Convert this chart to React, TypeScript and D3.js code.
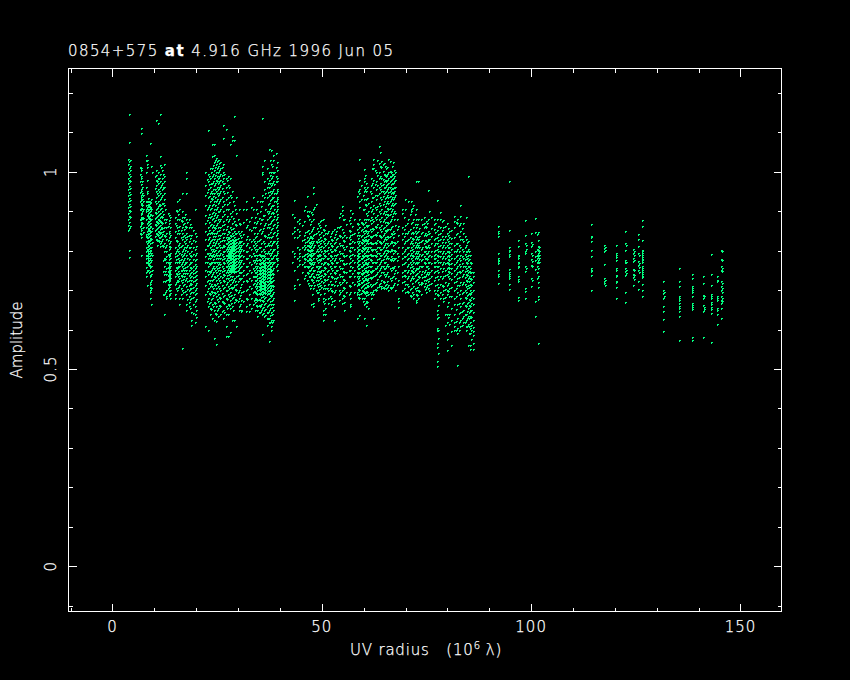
import { useEffect, useRef } from 'react';
import * as d3 from 'd3';

// each column is one baseline track: [uv radius in 10^6 lambda, amplitudes in milli-units]
type Column = [number, number[]];

const bandA: Column[] = [
    [3.7, [1032, 1019, 1000, 985, 970, 955, 940, 925, 910, 895, 880, 866, 853]],
    [3.9, [1147, 1076, 1026, 1008, 993, 979, 963, 948, 933, 917, 902, 887, 872, 858, 802, 783]],
    [6.6, [1012, 995, 975, 948, 925, 905, 880, 862, 845]],
    [6.9, [1110, 1097, 1003, 985, 968, 955, 942, 930, 918, 905, 892, 880, 868, 852, 835, 790]],
    [7.1, [975, 960, 945, 930, 915, 900, 885, 870]],
    [7.9, [1041, 1030, 925, 905, 880, 860, 842, 825, 810, 790, 770, 745]],
    [8.3, [1029, 1020, 1012, 980, 950, 945, 925, 910, 890, 870, 850, 835, 820, 805, 790, 770, 750, 712]],
    [8.6, [925, 915, 905, 895, 885, 875, 865, 855, 845, 835, 825, 815, 805, 795, 785, 775, 765]],
    [8.9, [1072, 920, 910, 900, 890, 880, 870, 860, 850, 840, 830, 820, 810, 800, 790, 780, 770, 760, 748, 735, 720, 708, 695, 680]],
    [9.2, [1015, 930, 905, 880, 850, 830, 810, 795, 775, 760, 740, 725, 705, 665]],
    [10.3, [1130, 1005, 992, 980, 965, 950, 935, 920, 905, 895, 885, 875, 865, 855, 845, 830]],
    [10.8, [1122, 1000, 985, 970, 955, 940, 925, 912, 900, 890, 880, 870, 860, 850, 840, 826]],
    [11.3, [1147, 1040, 1018, 995, 975, 960, 945, 930, 915, 905, 895, 885, 875, 865, 855, 845, 835, 820, 812]],
    [11.8, [1005, 985, 970, 955, 940, 920, 900, 885, 870, 858, 843, 830, 815]],
    [12.3, [1020, 990, 975, 960, 945, 930, 915, 880, 860, 840, 820, 800, 780, 760, 740, 690, 640]],
    [12.9, [880, 860, 845, 830, 815, 800, 785, 770, 755, 740, 725, 700, 685, 680]],
    [13.4, [890, 870, 850, 835, 820, 805, 790, 778, 766, 755, 745, 735, 725, 712, 700, 688]],
    [13.8, [885, 860, 840, 825, 810, 795, 780, 770, 760, 750, 740, 730, 715, 700, 692, 680]],
    [15.0, [885, 870, 850, 835, 810, 795, 785, 770, 750, 735, 715, 690, 680]],
    [15.5, [925, 900, 880, 860, 845, 825, 805, 790, 770, 755, 740, 725, 700]],
    [16.0, [930, 905, 880, 862, 845, 820, 810, 795, 775, 770, 760, 742, 730, 712, 680, 665]],
    [16.6, [945, 900, 885, 875, 860, 845, 830, 815, 800, 785, 770, 760, 750, 735, 720, 700, 680, 554]],
    [17.0, [885, 870, 855, 840, 825, 810, 795, 780, 765, 750, 735, 715]],
    [17.6, [1000, 985, 945, 880, 860, 845, 830, 810, 790, 770, 750, 730, 710, 690, 665, 650]],
    [18.2, [880, 860, 840, 825, 810, 795, 778, 765, 750, 738, 725, 712, 700, 685, 670, 660]],
    [18.8, [860, 840, 820, 800, 785, 770, 755, 745, 735, 725, 715, 705, 695, 680, 645, 625, 612]],
    [19.6, [905, 845, 825, 805, 790, 775, 765, 755, 745, 735, 725, 712, 700, 690, 672, 660, 640, 620]],
    [22.2, [1000, 965, 940, 915, 890, 870, 850, 830, 805, 785, 770, 750, 735, 712, 690, 608]],
    [22.8, [1105, 995, 975, 955, 935, 910, 885, 860, 845, 830, 815, 795, 780, 760, 740, 725, 705, 680, 660, 598]],
    [23.3, [1010, 985, 960, 945, 925, 905, 885, 865, 845, 825, 810, 795, 780, 765, 745, 725, 710, 690, 670, 655, 640]],
    [23.8, [1069, 1040, 1010, 990, 970, 945, 930, 915, 895, 880, 860, 845, 830, 815, 800, 785, 770, 755, 740, 725, 710, 695, 680, 665, 628]],
    [24.3, [1071, 1041, 1025, 1005, 985, 965, 945, 925, 905, 890, 875, 860, 845, 830, 815, 800, 785, 770, 755, 735, 715, 695, 670, 650, 625, 579]],
    [24.8, [1035, 1020, 1000, 980, 950, 925, 905, 885, 865, 845, 825, 810, 795, 780, 760, 745, 725, 705, 685, 660, 640, 622, 562]],
    [25.3, [1030, 1015, 1000, 985, 970, 955, 940, 920, 900, 880, 860, 840, 820, 800, 780, 765, 750, 730, 710, 690, 672, 655, 635]],
    [25.8, [1025, 1010, 995, 980, 965, 950, 930, 905, 880, 860, 840, 825, 810, 795, 780, 765, 750, 735, 720, 700, 680, 660, 640]],
    [26.4, [1119, 1086, 1020, 1000, 985, 970, 950, 925, 900, 875, 855, 835, 815, 800, 785, 770, 755, 740, 725, 705, 685, 670, 650, 630]],
    [27.0, [1109, 985, 960, 930, 905, 880, 855, 835, 820, 805, 790, 775, 760, 745, 730, 715, 700, 680, 660, 640, 608, 584]],
    [27.6, [990, 965, 935, 905, 875, 850, 835, 825, 815, 805, 795, 785, 775, 765, 755, 745, 730, 710, 690, 665, 640, 583]],
    [28.1, [1071, 985, 940, 895, 860, 840, 828, 820, 812, 804, 796, 788, 780, 772, 764, 756, 748, 735, 715, 695, 675, 655, 594]],
    [28.6, [1090, 1080, 950, 900, 870, 845, 830, 822, 814, 806, 798, 790, 782, 774, 766, 758, 750, 735, 720, 705, 680, 660, 625]],
    [29.1, [1140, 1080, 915, 875, 850, 835, 825, 817, 809, 801, 793, 785, 777, 769, 761, 753, 745, 730, 712, 690, 670, 625]],
    [29.6, [1041, 935, 895, 865, 845, 830, 822, 814, 806, 798, 790, 782, 774, 766, 758, 748, 735, 715, 700, 675, 608]],
    [30.2, [905, 870, 845, 825, 815, 805, 795, 785, 775, 765, 755, 745, 730, 700, 680, 660, 650]],
    [30.8, [850, 835, 825, 815, 805, 790, 775, 760, 745, 730, 715, 695, 675, 650, 648]],
    [31.9, [925, 905, 880, 860, 830, 815, 800, 780, 760, 740, 725, 700, 680, 660, 648]],
    [32.5, [875, 855, 830, 810, 790, 770, 750, 730, 710, 690, 665, 648]],
    [33.5, [935, 905, 860, 830, 815, 795, 775, 755, 735, 715, 695, 665]],
    [34.0, [885, 860, 835, 820, 805, 790, 775, 760, 745, 735, 725, 710, 695, 680, 670, 650]],
    [34.6, [925, 895, 875, 845, 825, 805, 790, 775, 760, 750, 740, 730, 720, 710, 700, 690, 675, 660, 650, 635]],
    [35.2, [925, 900, 870, 855, 830, 810, 790, 775, 765, 755, 748, 740, 732, 724, 716, 708, 700, 690, 675, 660, 645]],
    [35.7, [1135, 1013, 1000, 995, 940, 925, 880, 850, 790, 780, 770, 762, 754, 746, 738, 730, 722, 714, 706, 698, 690, 675, 655, 640, 589]],
    [36.2, [1029, 975, 955, 935, 890, 865, 840, 820, 800, 785, 775, 767, 759, 751, 743, 735, 727, 719, 711, 703, 695, 680, 665, 650, 635]],
    [36.8, [1010, 985, 960, 935, 900, 880, 860, 835, 815, 795, 780, 770, 762, 754, 746, 738, 730, 722, 714, 706, 698, 690, 675, 660, 645, 630, 612]],
    [37.3, [1058, 1000, 980, 960, 940, 920, 900, 885, 860, 835, 815, 795, 775, 765, 757, 749, 741, 733, 725, 717, 709, 701, 693, 680, 665, 650, 630, 620, 572]],
    [37.8, [1056, 1020, 1000, 985, 965, 945, 930, 912, 895, 875, 855, 835, 815, 795, 780, 770, 760, 750, 740, 730, 720, 710, 700, 685, 665, 645, 625, 610, 600]],
    [38.3, [1041, 1029, 1000, 975, 955, 935, 915, 895, 880, 865, 845, 825, 805, 785, 770, 755, 740, 725, 710, 695, 680, 665, 650, 625]],
    [39.0, [1047, 1012, 990, 975, 945, 925, 900, 880, 860, 840, 820, 790, 780, 760]],
    [39.4, [1025, 985, 955, 935, 920, 905, 885, 865, 845, 825, 810, 795, 775, 752]],
];

// tracks between the ones above, where the cloud is thicker
const bandAFill: Column[] = [
    [4.1, [1030, 1015, 1004, 989, 975, 958, 944, 929, 914, 899, 884, 862]],
    [6.7, [1010, 990, 968, 952, 936, 920, 908, 895, 884, 872, 858, 842]],
    [7.3, [940, 925, 905, 882, 860, 848]],
    [8.1, [1000, 960, 915, 900, 860, 838, 800, 782, 758, 736]],
    [8.45, [932, 918, 902, 888, 872, 858, 842, 828, 812, 798, 782, 768, 752]],
    [8.75, [926, 913, 897, 883, 867, 853, 837, 823, 807, 793, 777, 763, 745]],
    [9.05, [922, 908, 892, 878, 862, 848, 832, 818, 802, 788, 772, 758, 738, 716, 700]],
    [9.5, [1000, 890, 858, 822, 788, 752]],
    [10.1, [990, 958, 925, 897, 882, 868, 852, 838]],
    [10.55, [975, 945, 908, 887, 872, 858, 843, 828, 815]],
    [11.05, [985, 950, 918, 893, 878, 862, 848, 835, 823]],
    [11.55, [1012, 965, 935, 908, 888, 872, 860, 847, 838, 825]],
    [12.05, [995, 960, 920, 892, 850, 812, 775, 748, 722, 690]],
    [12.6, [905, 872, 838, 808, 778, 748, 722, 695]],
    [13.15, [895, 862, 828, 792, 772, 758, 748, 738, 728, 716, 704]],
    [13.6, [878, 845, 812, 785, 772, 762, 752, 742, 732, 722, 708, 690]],
    [15.25, [902, 865, 828, 798, 778, 758, 742, 720, 705]],
    [15.75, [892, 852, 815, 798, 782, 762, 748, 735, 722, 708]],
    [16.3, [878, 852, 835, 812, 792, 778, 765, 752, 738, 725, 705, 690]],
    [16.85, [868, 838, 805, 790, 775, 755, 742, 728, 712, 695]],
    [17.3, [892, 862, 835, 818, 802, 772, 758, 742, 725, 698]],
    [17.9, [872, 838, 815, 798, 782, 762, 742, 722, 702, 678]],
    [18.5, [868, 832, 808, 788, 772, 758, 742, 732, 718, 705, 692, 678, 655]],
    [19.2, [852, 828, 808, 792, 778, 762, 752, 742, 732, 722, 708, 695, 682, 665, 642]],
    [19.9, [838, 812, 795, 778, 762, 748, 738, 728, 718, 705, 692, 678, 650, 632]],
    [22.5, [982, 948, 905, 878, 842, 815, 795, 772, 748, 722, 698, 672]],
    [23.05, [990, 968, 938, 915, 892, 872, 852, 835, 818, 788, 768, 748, 718, 692, 668]],
    [23.55, [1000, 972, 952, 932, 908, 888, 868, 848, 828, 805, 788, 772, 752, 735, 715, 698, 678, 652]],
    [24.05, [1018, 995, 975, 955, 938, 918, 898, 882, 865, 852, 838, 822, 805, 792, 778, 762, 745, 728, 705, 688, 660]],
    [24.55, [1030, 1012, 992, 972, 955, 935, 915, 895, 878, 858, 838, 818, 802, 788, 772, 752, 732, 712, 692, 668, 642]],
    [25.05, [1028, 1008, 990, 975, 962, 945, 930, 910, 890, 870, 850, 830, 810, 790, 772, 755, 738, 718, 698, 678, 650]],
    [25.55, [1022, 1005, 990, 975, 960, 945, 925, 900, 875, 852, 832, 815, 802, 788, 772, 758, 742, 725, 705, 682, 662]],
    [26.1, [1012, 992, 975, 958, 935, 912, 888, 865, 845, 828, 808, 792, 778, 762, 748, 732, 712, 692, 672, 648]],
    [26.7, [995, 972, 945, 918, 892, 868, 845, 828, 812, 798, 782, 768, 752, 738, 722, 708, 688, 668, 645]],
    [27.3, [978, 948, 918, 888, 862, 842, 830, 820, 810, 800, 790, 780, 770, 760, 750, 738, 720, 700, 678, 655]],
    [27.85, [960, 922, 880, 848, 832, 824, 816, 808, 800, 792, 784, 776, 768, 760, 752, 740, 725, 705, 685, 662]],
    [28.35, [935, 888, 855, 838, 826, 818, 810, 802, 794, 786, 778, 770, 762, 754, 746, 728, 708, 688, 668]],
    [28.85, [925, 882, 858, 840, 827, 819, 811, 803, 795, 787, 779, 771, 763, 755, 747, 725, 708, 682, 650]],
    [29.35, [905, 868, 845, 830, 820, 812, 804, 796, 788, 780, 772, 764, 756, 748, 722, 702, 678]],
    [29.9, [880, 850, 832, 820, 810, 800, 790, 780, 770, 760, 750, 738, 722, 695, 672]],
    [30.5, [868, 840, 822, 810, 798, 785, 772, 758, 745, 728, 708, 688, 665]],
    [31.2, [905, 872, 842, 820, 802, 785, 768, 752, 738, 722, 698, 672]],
    [32.2, [865, 838, 820, 800, 782, 762, 742, 722, 702, 678]],
    [33.0, [910, 885, 852, 825, 805, 785, 765, 745, 725, 705, 680, 655]],
    [33.8, [872, 845, 825, 808, 790, 772, 752, 735, 718, 698, 675]],
    [34.3, [905, 870, 838, 815, 798, 782, 768, 755, 745, 735, 725, 715, 705, 692, 678, 662]],
    [34.9, [882, 852, 828, 808, 792, 778, 768, 758, 750, 742, 734, 726, 718, 710, 702, 692, 678, 662, 645]],
    [35.45, [912, 880, 845, 820, 800, 785, 772, 762, 752, 744, 736, 728, 720, 712, 704, 694, 682, 665, 650]],
    [35.95, [890, 858, 825, 805, 788, 776, 768, 760, 752, 744, 736, 728, 720, 712, 704, 696, 686, 672, 658, 642]],
    [36.5, [945, 905, 870, 838, 812, 795, 782, 772, 764, 756, 748, 740, 732, 724, 716, 708, 700, 692, 682, 668, 652, 638]],
    [37.05, [972, 948, 918, 895, 868, 842, 818, 798, 782, 772, 764, 756, 748, 740, 732, 724, 716, 708, 700, 692, 678, 662, 645, 628]],
    [37.55, [1030, 992, 970, 950, 928, 908, 888, 870, 848, 825, 805, 788, 772, 762, 754, 746, 738, 730, 722, 714, 706, 698, 688, 672, 655, 638, 618]],
    [38.05, [1015, 990, 972, 952, 935, 915, 898, 878, 858, 838, 818, 800, 782, 765, 752, 742, 732, 722, 712, 702, 690, 675, 658, 640, 620]],
    [38.6, [1000, 968, 945, 925, 905, 888, 868, 848, 825, 805, 790, 772]],
    [39.2, [1005, 975, 950, 930, 912, 892, 872, 852, 832, 815, 798, 782, 765]],
];

const bandB: Column[] = [
    [43.3, [929, 886, 860, 850, 834, 795, 785, 750, 713, 705, 675]],
    [44.5, [880, 870, 850, 840, 805, 795, 785, 775, 765, 716]],
    [45.7, [903, 875, 840, 830, 815, 805, 790, 780, 770, 760, 730]],
    [46.4, [937, 900, 890, 850, 835, 825, 815, 805, 795, 785, 775, 760, 745, 725]],
    [46.9, [900, 880, 845, 832, 822, 812, 802, 792, 782, 772, 762, 750, 735, 712]],
    [47.4, [897, 875, 850, 835, 825, 815, 805, 795, 785, 775, 765, 755, 740, 728, 712, 665]],
    [47.9, [960, 945, 905, 880, 860, 840, 825, 810, 795, 780, 765, 750, 735, 720, 705, 668, 660]],
    [48.5, [919, 845, 825, 800, 780, 760, 740, 725, 700]],
    [49.0, [870, 850, 830, 815, 800, 785, 770, 755, 740, 725, 710, 695, 680, 675]],
    [49.6, [875, 860, 835, 820, 805, 790, 775, 760, 745, 730, 712, 690]],
    [50.2, [880, 855, 840, 825, 810, 795, 780, 765, 750, 735, 720, 705, 680, 672, 650, 640, 625]],
    [50.8, [865, 845, 830, 815, 800, 785, 770, 755, 740, 725, 705, 678, 655, 640]],
    [51.6, [850, 825, 810, 795, 780, 765, 750, 735, 715, 700, 680, 668]],
    [52.2, [845, 830, 815, 800, 785, 770, 755, 735, 715, 700, 680, 665]],
    [52.8, [855, 835, 820, 805, 790, 775, 760, 745, 730, 712, 695, 675, 660, 625]],
    [53.3, [850, 830, 810, 790, 770, 750, 730]],
    [54.0, [885, 860, 840, 820, 800, 780, 760, 740, 720, 700, 690, 675]],
    [54.8, [913, 903, 890, 855, 835, 815, 795, 775, 755, 735, 720, 700, 680, 668]],
    [55.4, [880, 840, 825, 805, 785, 765, 745, 725, 705, 685, 670, 650]],
    [56.8, [903, 885, 870, 850, 840, 830, 820, 810, 800, 790, 780, 770, 760, 750, 735, 710, 695, 680, 665, 660]],
    [58.3, [937, 870, 855, 840, 825, 810, 800, 790, 780, 770, 760, 745, 735, 722, 712, 695, 690, 629]],
    [59.0, [1033, 978, 955, 945, 925, 910, 880, 860, 840, 825, 815, 805, 795, 785, 775, 765, 755, 745, 735, 725, 715, 700, 690, 680, 637]],
    [59.5, [870, 855, 840, 830, 820, 810, 800, 790, 780, 770, 760, 750, 740, 730, 720, 710, 700, 680]],
    [60.0, [1007, 985, 975, 960, 950, 930, 905, 880, 860, 845, 835, 825, 815, 805, 795, 785, 775, 765, 755, 745, 735, 725, 715, 705, 695, 680, 665, 630]],
    [60.5, [970, 950, 930, 915, 895, 880, 865, 850, 838, 828, 818, 808, 798, 788, 778, 768, 758, 748, 738, 728, 718, 708, 698, 688, 672, 660, 612]],
    [61.1, [920, 900, 880, 865, 850, 840, 830, 820, 810, 800, 790, 780, 770, 760, 750, 740, 730, 720, 710, 690, 655]],
    [61.7, [985, 965, 945, 925, 900, 885, 870, 850, 835, 820, 805, 790, 775, 760, 745, 730, 710, 690, 680]],
    [62.3, [1033, 1020, 1010, 980, 960, 935, 915, 895, 875, 855, 840, 820, 805, 790, 770, 750, 735, 715, 700, 690, 630]],
    [62.9, [1000, 975, 955, 930, 905, 880, 860, 840, 820, 800, 785, 770, 755, 740, 720, 700]],
    [63.6, [1064, 1022, 1000, 985, 960, 945, 920, 900, 880, 860, 840, 825, 810, 795, 780, 765, 750, 735, 715, 710]],
    [64.2, [1028, 1012, 985, 965, 950, 930, 905, 885, 865, 850, 835, 820, 805, 790, 775, 760, 745, 725, 710, 705]],
    [64.8, [1022, 995, 975, 960, 945, 925, 900, 880, 860, 845, 830, 815, 800, 785, 770, 755, 740, 720, 705]],
    [65.3, [1010, 990, 975, 965, 950, 935, 920, 900, 885, 865, 850, 830, 810, 795, 780, 760, 740, 715, 705]],
    [65.9, [1033, 1000, 985, 972, 960, 948, 935, 920, 905, 890, 870, 855, 835, 815, 800, 780, 760, 735, 712, 700]],
    [66.5, [1000, 990, 978, 968, 955, 945, 930, 915, 900, 880, 860, 845, 825, 805, 785, 775, 750, 725, 705]],
    [67.0, [1025, 995, 985, 970, 958, 945, 930, 915, 895, 850, 835, 815, 795, 775, 755, 735, 712]],
    [67.5, [1000, 980, 960, 940, 920, 895, 865, 820, 800, 780, 750, 730, 700]],
    [68.2, [863, 840, 810, 785, 760, 725, 680, 672, 656]],
    [69.2, [905, 895, 860, 845, 830, 810, 795, 780, 765, 745, 735, 720, 700]],
    [69.9, [930, 905, 865, 845, 825, 805, 785, 770, 750, 735, 715, 695]],
    [70.7, [925, 880, 850, 830, 810, 795, 780, 765, 750, 735, 710, 695]],
    [71.3, [925, 905, 900, 870, 845, 825, 810, 795, 780, 765, 750, 730, 705, 685]],
    [71.9, [915, 880, 860, 845, 830, 815, 800, 785, 770, 755, 745, 730, 710, 690, 680]],
    [72.5, [975, 905, 880, 860, 845, 830, 815, 800, 785, 770, 755, 740, 725, 700, 690, 675, 670]],
    [73.0, [975, 880, 850, 830, 815, 800, 785, 770, 755, 735, 720, 700, 680]],
    [73.6, [880, 845, 825, 805, 790, 775, 760, 740, 720, 715, 690]],
    [74.3, [885, 870, 860, 840, 820, 800, 785, 770, 745, 735, 725, 710]],
    [74.9, [875, 860, 840, 825, 810, 795, 780, 760, 740, 725, 707, 695]],
    [75.3, [954, 880, 850, 830, 815, 800, 785, 770, 755, 740, 722, 705]],
    [75.7, [899, 845, 830, 810, 790, 770, 745, 730, 715, 700]],
    [76.8, [880, 868, 855, 830, 815, 800, 790, 780, 770, 760, 745, 725, 700, 680]],
    [77.4, [927, 880, 852, 835, 820, 805, 790, 775, 760, 750, 735, 715, 700, 690, 650, 640, 630, 605, 600, 565, 555, 520, 507]],
    [78.3, [897, 880, 860, 845, 830, 815, 800, 785, 770, 755, 735, 715, 695, 680]],
    [79.0, [878, 860, 830, 815, 800, 785, 770, 755, 735, 710, 700, 680, 672]],
    [79.9, [870, 845, 830, 815, 800, 785, 770, 755, 740, 712, 700, 690, 660, 640, 620, 590, 575, 548]],
    [80.4, [850, 835, 820, 808, 797, 786, 775, 765, 755, 745, 730, 705, 685, 640, 615]],
    [81.6, [888, 875, 860, 835, 815, 800, 780, 765, 750, 735, 720, 700, 680, 665, 640, 620, 610, 600]],
    [82.3, [880, 870, 845, 820, 805, 790, 775, 760, 745, 730, 712, 695, 665, 630, 605, 590, 510]],
    [83.1, [916, 888, 870, 850, 830, 810, 790, 775, 760, 745, 720, 700, 680, 660, 645, 625, 610]],
    [83.7, [870, 845, 825, 800, 780, 760, 740, 720, 695, 670, 650, 635, 620]],
    [84.4, [885, 830, 815, 800, 785, 770, 755, 740, 725, 710, 695, 680, 660, 640, 625, 610, 600]],
    [84.9, [988, 825, 805, 790, 775, 760, 745, 730, 712, 690, 670, 655, 635, 615, 560]],
    [85.5, [790, 770, 755, 745, 730, 715, 700, 690, 675, 660, 650, 635, 620, 605, 590, 560, 550]],
    [86.0, [745, 735, 720, 700, 680, 665, 645, 625, 606, 595, 585, 565, 550]],
];

const bandBFill: Column[] = [
    [43.0, [892, 845, 800, 770]],
    [44.1, [875, 855, 835, 810, 780, 760, 728]],
    [45.3, [865, 828, 808, 785, 765, 745]],
    [46.1, [912, 848, 822, 808, 792, 778, 762, 738]],
    [46.65, [888, 852, 828, 815, 802, 788, 775, 758, 742, 718]],
    [47.15, [868, 838, 818, 808, 798, 788, 778, 768, 752, 735, 705]],
    [47.65, [892, 855, 832, 818, 802, 788, 772, 758, 742, 725, 690]],
    [48.2, [910, 842, 815, 795, 772, 752, 732, 712]],
    [48.8, [858, 822, 805, 790, 775, 762, 748, 732, 715, 695]],
    [49.3, [865, 842, 825, 808, 792, 778, 762, 748, 735, 718, 702]],
    [49.9, [878, 848, 828, 812, 798, 782, 768, 752, 738, 722, 708]],
    [50.5, [852, 832, 818, 802, 788, 772, 758, 742, 728, 712, 692, 668]],
    [51.2, [845, 818, 802, 782, 768, 748, 728, 705]],
    [51.9, [838, 820, 805, 790, 775, 760, 742, 722, 705, 685]],
    [52.5, [850, 828, 812, 798, 782, 768, 750, 732, 715, 698, 672]],
    [53.05, [842, 822, 802, 782, 762, 742, 722, 700]],
    [53.7, [860, 832, 812, 792, 772, 752, 732, 712]],
    [54.4, [895, 862, 838, 815, 795, 775, 755, 735, 715, 695]],
    [55.1, [880, 848, 828, 808, 788, 768, 748, 728, 708, 688]],
    [55.8, [868, 835, 812, 790, 768, 745, 720, 695]],
    [56.5, [878, 852, 835, 818, 802, 785, 768, 752, 735, 712, 690]],
    [57.1, [895, 862, 842, 825, 808, 792, 775, 758, 742, 720]],
    [57.8, [880, 845, 822, 805, 788, 770, 752, 735, 715, 695]],
    [58.65, [952, 868, 848, 832, 818, 805, 795, 785, 775, 765, 755, 742, 730, 718, 702, 682]],
    [59.25, [965, 930, 872, 852, 836, 822, 802, 782, 762, 742, 720, 708, 692]],
    [59.75, [942, 905, 868, 850, 826, 806, 786, 766, 746, 726, 712, 698, 672]],
    [60.25, [992, 955, 918, 872, 852, 830, 810, 790, 770, 750, 730, 708, 692, 668]],
    [60.8, [962, 932, 890, 862, 845, 825, 805, 785, 765, 745, 725, 712, 695, 670]],
    [61.4, [950, 910, 878, 855, 838, 822, 808, 792, 778, 762, 748, 732, 715, 695]],
    [62.0, [1010, 972, 935, 905, 880, 858, 838, 818, 802, 788, 772, 752, 732, 712, 695]],
    [62.6, [1005, 968, 940, 910, 885, 862, 842, 822, 805, 790, 772, 755, 738, 718, 702]],
    [63.25, [1030, 992, 965, 940, 912, 890, 868, 848, 828, 810, 795, 778, 762, 745, 728, 708]],
    [63.9, [1050, 1015, 990, 972, 955, 935, 915, 895, 875, 855, 838, 822, 805, 790, 772, 755, 738, 718]],
    [64.5, [1020, 1002, 982, 968, 952, 938, 918, 895, 875, 858, 840, 825, 808, 795, 778, 762, 745, 722, 708]],
    [65.05, [1015, 992, 978, 962, 948, 932, 912, 892, 872, 852, 835, 820, 802, 788, 772, 755, 735, 712]],
    [65.6, [1012, 995, 980, 968, 955, 942, 925, 908, 892, 872, 855, 838, 820, 802, 785, 765, 745, 722, 708]],
    [66.2, [1028, 1002, 988, 975, 962, 950, 938, 925, 908, 892, 875, 855, 838, 818, 798, 778, 755, 730, 708]],
    [66.75, [1015, 995, 982, 970, 958, 948, 935, 920, 905, 888, 862, 842, 822, 802, 782, 758, 732, 708]],
    [67.25, [1005, 990, 975, 962, 950, 935, 918, 900, 880, 845, 822, 802, 782, 762, 742, 718]],
    [68.0, [880, 855, 825, 795, 775, 745, 715]],
    [69.55, [885, 855, 838, 818, 800, 785, 768, 752, 738, 722, 705]],
    [70.3, [870, 845, 828, 808, 792, 778, 762, 745, 730, 715, 698]],
    [71.0, [892, 855, 835, 818, 802, 788, 772, 758, 742, 725, 702, 688]],
    [71.6, [908, 872, 848, 832, 818, 805, 790, 775, 762, 748, 735, 718, 695]],
    [72.2, [892, 868, 850, 836, 822, 808, 795, 782, 768, 752, 738, 722, 705]],
    [72.75, [868, 848, 835, 820, 808, 795, 782, 768, 755, 742, 728, 708, 688]],
    [73.3, [858, 838, 822, 808, 792, 778, 762, 748, 732, 715, 698]],
    [74.0, [868, 848, 828, 808, 792, 778, 762, 748, 732, 718]],
    [74.6, [862, 845, 828, 812, 798, 782, 768, 752, 735, 718, 702]],
    [75.1, [870, 842, 825, 808, 795, 778, 762, 745, 728, 712]],
    [76.2, [885, 858, 838, 818, 800, 785, 768, 752, 735, 718]],
    [77.1, [870, 848, 832, 818, 802, 792, 782, 772, 762, 748, 732, 712, 692]],
    [77.7, [862, 842, 828, 812, 798, 785, 772, 760, 745, 728, 708, 688, 662, 632, 598, 578, 540]],
    [78.7, [875, 852, 838, 822, 808, 795, 780, 765, 748, 730, 712, 690]],
    [79.5, [862, 838, 822, 808, 795, 780, 768, 752, 738, 720, 702, 682, 640, 612]],
    [80.15, [858, 840, 825, 810, 798, 788, 778, 768, 758, 748, 735, 718, 698, 670, 632]],
    [80.8, [852, 832, 818, 805, 792, 780, 768, 755, 742, 728, 708, 685, 655, 625, 595, 560]],
    [82.0, [872, 842, 818, 800, 785, 770, 755, 740, 722, 705, 685, 652, 622, 598]],
    [82.7, [865, 838, 815, 798, 782, 765, 748, 732, 712, 690, 668, 642, 618, 600]],
    [83.4, [858, 830, 805, 785, 768, 752, 735, 715, 692, 668, 648, 628, 612]],
    [84.15, [838, 808, 792, 778, 762, 748, 732, 716, 700, 682, 662, 640, 620]],
    [84.65, [822, 798, 782, 768, 752, 738, 722, 705, 688, 668, 648, 628, 608]],
    [85.2, [800, 778, 762, 748, 735, 722, 708, 692, 678, 662, 645, 628, 610, 592]],
    [85.75, [768, 745, 728, 712, 695, 682, 668, 650, 632, 612, 598, 575]],
];

const bandC: Column[] = [
    [92.0, [861, 850, 836, 795, 777, 773, 751, 735, 718]],
    [92.1, [845, 782, 768, 740]],
    [94.6, [975, 853, 809, 798, 787, 753, 741, 730, 716, 703]],
    [94.7, [802, 792, 745, 735]],
    [96.8, [828, 811, 790, 781, 768, 758, 735, 724, 682, 674]],
    [96.9, [785, 772, 762, 728]],
    [98.6, [877, 840, 819, 800, 794, 760, 749, 705, 697, 681]],
    [98.7, [815, 805, 755]],
    [100.0, [844, 821, 812, 794, 779, 764, 730, 709]],
    [100.1, [816, 790, 774, 760, 725]],
    [101.0, [882, 847, 798, 787, 775, 753, 671, 633]],
    [101.4, [842, 805, 790, 782, 772, 760, 745, 730]],
    [101.7, [847, 826, 812, 802, 794, 785, 777, 770, 756, 735, 720, 708, 686, 677, 567]],
    [101.9, [810, 798, 790, 780, 772]],
];

const bandD: Column[] = [
    [114.3, [868, 838, 824, 802, 787, 756, 747, 739, 701]],
    [114.4, [834, 752]],
    [117.5, [815, 806, 798, 767, 730, 722, 718]],
    [117.6, [810, 802, 726, 714]],
    [120.2, [815, 794, 784, 775, 756, 739, 724, 707, 681]],
    [120.3, [790, 752, 735, 720]],
    [122.5, [849, 819, 802, 777, 770, 756, 747, 739, 694, 669]],
    [122.6, [815, 772, 752, 743]],
    [124.4, [805, 795, 781, 773, 754, 741, 733, 714]],
    [124.5, [800, 790, 776, 750, 737, 728]],
    [125.6, [843, 829, 812, 794, 773, 764, 751, 722, 702]],
    [125.8, [790, 768, 758, 745]],
    [126.4, [878, 863, 826, 802, 794, 784, 775, 760, 751, 736, 716, 699, 684]],
    [126.5, [798, 788, 778, 770, 756, 745, 740, 732]],
];

const bandE: Column[] = [
    [131.6, [724, 701, 692, 680, 660, 648, 626, 595]],
    [131.7, [696, 684]],
    [135.3, [755, 722, 709, 684, 674, 659, 646, 633, 574]],
    [135.4, [680, 668, 655]],
    [138.4, [741, 730, 709, 699, 686, 667, 657, 582, 574]],
    [138.5, [704, 694, 662, 652]],
    [141.1, [735, 718, 688, 680, 663, 646, 582]],
    [141.2, [684, 658, 652]],
    [142.9, [792, 741, 713, 691, 680, 669, 657, 643, 569]],
    [143.0, [686, 664, 652]],
    [144.4, [736, 722, 680, 654, 640, 615]],
    [144.5, [726, 686, 675, 650]],
    [145.3, [802, 779, 760, 751, 722, 709, 699, 684, 675, 667, 654, 629]],
    [145.5, [798, 775, 755, 748, 718, 704, 694, 680, 671]],
];

const xMajor = [0, 50, 100, 150];
const xMinor = [-10, 10, 20, 30, 40, 60, 70, 80, 90, 110, 120, 130, 140];
const yMajor = [0, 0.5, 1];
const yMinor = [-0.1, 0.1, 0.2, 0.3, 0.4, 0.6, 0.7, 0.8, 0.9, 1.1, 1.2];

const width = 850;
const height = 680;
const frame = { left: 68.5, right: 781.5, top: 68.5, bottom: 611.5 };
const pointColor = '#00ff80';
const font = '"DejaVu Sans", sans-serif';

export default function App() {
    const svgRef = useRef<SVGSVGElement>(null);

    useEffect(() => {
        if (!svgRef.current) return;

        document.body.style.margin = '0';
        document.body.style.background = '#000';

        const svg = d3.select(svgRef.current);
        svg.selectAll('*').remove();

        const xScale = d3.scaleLinear().domain([-10.5, 159.8]).range([frame.left, frame.right]);
        const yScale = d3.scaleLinear().domain([-0.1145, 1.2613]).range([frame.bottom, frame.top]);

        // Visibilities
        const columns = [...bandA, ...bandAFill, ...bandB, ...bandBFill, ...bandC, ...bandD, ...bandE];
        const points = columns.flatMap(([uv, amps]) => amps.map(a => ({ uv, amp: a / 1000 })));

        svg.append('g')
            .attr('shape-rendering', 'crispEdges')
            .selectAll('path')
            .data(points)
            .join('path')
            .attr('transform', d => `translate(${Math.round(xScale(d.uv))},${Math.round(yScale(d.amp))})`)
            .attr('d', 'M0 0h2v1h-1v1h-1z')
            .attr('fill', pointColor);

        // Frame and ticks on all four sides
        const ink = svg.append('g')
            .attr('stroke', '#fff')
            .attr('stroke-width', 1)
            .attr('shape-rendering', 'crispEdges');

        ink.append('rect')
            .attr('x', frame.left)
            .attr('y', frame.top)
            .attr('width', frame.right - frame.left)
            .attr('height', frame.bottom - frame.top)
            .attr('fill', 'none');

        const xTick = (vals: number[], len: number) => {
            vals.forEach(v => {
                const x = Math.round(xScale(v)) + 0.5;
                ink.append('line').attr('x1', x).attr('x2', x).attr('y1', frame.bottom).attr('y2', frame.bottom - len);
                ink.append('line').attr('x1', x).attr('x2', x).attr('y1', frame.top).attr('y2', frame.top + len);
            });
        };
        const yTick = (vals: number[], len: number) => {
            vals.forEach(v => {
                const y = Math.round(yScale(v)) + 0.5;
                ink.append('line').attr('y1', y).attr('y2', y).attr('x1', frame.left).attr('x2', frame.left + len);
                ink.append('line').attr('y1', y).attr('y2', y).attr('x1', frame.right).attr('x2', frame.right - len);
            });
        };
        xTick(xMajor, 8);
        xTick(xMinor, 4);
        yTick(yMajor, 8);
        yTick(yMinor, 4);

        // Text
        const label = svg.append('g')
            .attr('fill', '#fff')
            .attr('stroke', '#fff')
            .attr('stroke-width', 0.25)
            .attr('font-family', font)
            .attr('font-weight', 200)
            .attr('font-size', 15);

        const title = label.append('text')
            .attr('x', 68)
            .attr('y', 56)
            .attr('textLength', 325)
            .attr('lengthAdjust', 'spacing');
        title.append('tspan').text('0854+575 ');
        title.append('tspan').attr('font-weight', 'bold').text('at');
        title.append('tspan').text(' 4.916 GHz 1996 Jun 05');

        label.selectAll('.xlab')
            .data(xMajor)
            .join('text')
            .attr('class', 'xlab')
            .attr('x', d => xScale(d))
            .attr('y', 632)
            .attr('text-anchor', 'middle')
            .attr('letter-spacing', 1)
            .text(d => d);

        label.selectAll('.ylab')
            .data(yMajor)
            .join('text')
            .attr('class', 'ylab')
            .attr('transform', d => `translate(56,${yScale(d)}) rotate(-90)`)
            .attr('text-anchor', 'middle')
            .attr('letter-spacing', 1)
            .text(d => d);

        const xTitle = label.append('text')
            .attr('x', 350)
            .attr('y', 655)
            .attr('letter-spacing', 0.8)
            .attr('xml:space', 'preserve');
        xTitle.append('tspan').text('UV radius   (10');
        xTitle.append('tspan').attr('dy', -6).attr('font-size', 10).text('6');
        xTitle.append('tspan').attr('dy', 6).attr('dx', 5).text('\u03bb)');

        label.append('text')
            .attr('transform', 'translate(22,340) rotate(-90)')
            .attr('text-anchor', 'middle')
            .text('Amplitude');
    }, []);

    return <svg ref={svgRef} width={width} height={height} style={{ display: 'block', background: '#000' }} />;
}
